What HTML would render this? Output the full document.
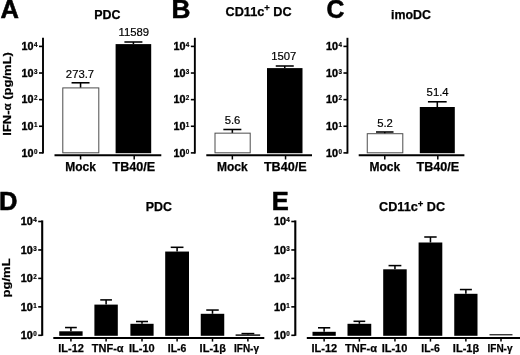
<!DOCTYPE html>
<html><head><meta charset="utf-8"><title>Figure</title>
<style>
html,body{margin:0;padding:0;background:#fff;}
svg{display:block;}
svg text{font-family:'Liberation Sans', sans-serif;fill:#000;}
</style></head>
<body>
<svg width="520" height="355" viewBox="0 0 520 355">
<defs><filter id="soft" x="0" y="0" width="520" height="355" filterUnits="userSpaceOnUse"><feGaussianBlur stdDeviation="0.35"/></filter></defs>
<rect x="0" y="0" width="520" height="355" fill="#fff"/>
<g filter="url(#soft)">
<line x1="43.0" y1="37.8" x2="43.0" y2="153.6" stroke="#000" stroke-width="1.9"/>
<line x1="39.0" y1="46.4" x2="43.0" y2="46.4" stroke="#000" stroke-width="1.6"/>
<text x="33.6" y="50.1" font-size="10.8" font-weight="bold" text-anchor="end" stroke="#000" stroke-width="0.4">10</text>
<text x="34.0" y="47.1" font-size="6.3" font-weight="bold" text-anchor="start" stroke="#000" stroke-width="0.2">4</text>
<line x1="39.0" y1="73.02" x2="43.0" y2="73.02" stroke="#000" stroke-width="1.6"/>
<text x="33.6" y="76.72" font-size="10.8" font-weight="bold" text-anchor="end" stroke="#000" stroke-width="0.4">10</text>
<text x="34.0" y="73.72" font-size="6.3" font-weight="bold" text-anchor="start" stroke="#000" stroke-width="0.2">3</text>
<line x1="39.0" y1="99.64" x2="43.0" y2="99.64" stroke="#000" stroke-width="1.6"/>
<text x="33.6" y="103.34" font-size="10.8" font-weight="bold" text-anchor="end" stroke="#000" stroke-width="0.4">10</text>
<text x="34.0" y="100.34" font-size="6.3" font-weight="bold" text-anchor="start" stroke="#000" stroke-width="0.2">2</text>
<line x1="39.0" y1="126.26" x2="43.0" y2="126.26" stroke="#000" stroke-width="1.6"/>
<text x="33.6" y="129.96" font-size="10.8" font-weight="bold" text-anchor="end" stroke="#000" stroke-width="0.4">10</text>
<text x="34.0" y="126.96000000000001" font-size="6.3" font-weight="bold" text-anchor="start" stroke="#000" stroke-width="0.2">1</text>
<line x1="39.0" y1="152.88" x2="43.0" y2="152.88" stroke="#000" stroke-width="1.6"/>
<text x="33.6" y="156.57999999999998" font-size="10.8" font-weight="bold" text-anchor="end" stroke="#000" stroke-width="0.4">10</text>
<text x="34.0" y="153.57999999999998" font-size="6.3" font-weight="bold" text-anchor="start" stroke="#000" stroke-width="0.2">0</text>
<line x1="54.5" y1="155.15" x2="161.3" y2="155.15" stroke="#000" stroke-width="2.0"/>
<line x1="71.55" y1="82.8" x2="89.55" y2="82.8" stroke="#000" stroke-width="1.55"/>
<line x1="80.55" y1="82.8" x2="80.55" y2="87.9" stroke="#000" stroke-width="1.55"/>
<line x1="124.39999999999998" y1="42.0" x2="142.39999999999998" y2="42.0" stroke="#000" stroke-width="1.55"/>
<line x1="133.39999999999998" y1="42.0" x2="133.39999999999998" y2="44.1" stroke="#000" stroke-width="1.55"/>
<rect x="62.8" y="87.9" width="36.0" height="64.9" fill="#fff" stroke="#4c4c4c" stroke-width="1.0"/>
<rect x="115.6" y="44.1" width="35.6" height="109.1" fill="#000"/>
<line x1="80.55" y1="155.5" x2="80.55" y2="159.5" stroke="#000" stroke-width="1.5"/>
<line x1="134.2" y1="155.5" x2="134.2" y2="159.5" stroke="#000" stroke-width="1.5"/>
<text x="80.55" y="170.8" font-size="12" font-weight="bold" text-anchor="middle" stroke="#000" stroke-width="0.25">Mock</text>
<text x="133.89999999999998" y="170.8" font-size="12" font-weight="bold" text-anchor="middle" textLength="42.7" lengthAdjust="spacingAndGlyphs" stroke="#000" stroke-width="0.25">TB40/E</text>
<text x="80" y="77.8" font-size="11.3" font-weight="normal" text-anchor="middle" stroke="#000" stroke-width="0.2">273.7</text>
<text x="133.75" y="36.3" font-size="11.3" font-weight="normal" text-anchor="middle" stroke="#000" stroke-width="0.2">11589</text>
<text x="107.3" y="19" font-size="12" font-weight="bold" text-anchor="middle" textLength="26.2" lengthAdjust="spacingAndGlyphs" stroke="#000" stroke-width="0.25">PDC</text>
<text transform="translate(0.4,18.0) scale(1.0,1)" font-size="25.5" font-weight="bold" stroke="#000" stroke-width="0.55">A</text>
<line x1="194.85" y1="37.8" x2="194.85" y2="153.6" stroke="#000" stroke-width="1.9"/>
<line x1="190.85" y1="46.4" x2="194.85" y2="46.4" stroke="#000" stroke-width="1.6"/>
<text x="185.45" y="50.1" font-size="10.8" font-weight="bold" text-anchor="end" stroke="#000" stroke-width="0.4">10</text>
<text x="185.85" y="47.1" font-size="6.3" font-weight="bold" text-anchor="start" stroke="#000" stroke-width="0.2">4</text>
<line x1="190.85" y1="73.02" x2="194.85" y2="73.02" stroke="#000" stroke-width="1.6"/>
<text x="185.45" y="76.72" font-size="10.8" font-weight="bold" text-anchor="end" stroke="#000" stroke-width="0.4">10</text>
<text x="185.85" y="73.72" font-size="6.3" font-weight="bold" text-anchor="start" stroke="#000" stroke-width="0.2">3</text>
<line x1="190.85" y1="99.64" x2="194.85" y2="99.64" stroke="#000" stroke-width="1.6"/>
<text x="185.45" y="103.34" font-size="10.8" font-weight="bold" text-anchor="end" stroke="#000" stroke-width="0.4">10</text>
<text x="185.85" y="100.34" font-size="6.3" font-weight="bold" text-anchor="start" stroke="#000" stroke-width="0.2">2</text>
<line x1="190.85" y1="126.26" x2="194.85" y2="126.26" stroke="#000" stroke-width="1.6"/>
<text x="185.45" y="129.96" font-size="10.8" font-weight="bold" text-anchor="end" stroke="#000" stroke-width="0.4">10</text>
<text x="185.85" y="126.96000000000001" font-size="6.3" font-weight="bold" text-anchor="start" stroke="#000" stroke-width="0.2">1</text>
<line x1="190.85" y1="152.88" x2="194.85" y2="152.88" stroke="#000" stroke-width="1.6"/>
<text x="185.45" y="156.57999999999998" font-size="10.8" font-weight="bold" text-anchor="end" stroke="#000" stroke-width="0.4">10</text>
<text x="185.85" y="153.57999999999998" font-size="6.3" font-weight="bold" text-anchor="start" stroke="#000" stroke-width="0.2">0</text>
<line x1="206.3" y1="155.15" x2="312.0" y2="155.15" stroke="#000" stroke-width="2.0"/>
<line x1="223.35" y1="129.5" x2="241.35" y2="129.5" stroke="#000" stroke-width="1.55"/>
<line x1="232.35" y1="129.5" x2="232.35" y2="133.15" stroke="#000" stroke-width="1.55"/>
<line x1="275.75" y1="66.0" x2="293.75" y2="66.0" stroke="#000" stroke-width="1.55"/>
<line x1="284.75" y1="66.0" x2="284.75" y2="68.1" stroke="#000" stroke-width="1.55"/>
<rect x="215.0" y="133.15" width="35.2" height="19.65" fill="#fff" stroke="#4c4c4c" stroke-width="1.0"/>
<rect x="267.0" y="68.1" width="35.5" height="85.1" fill="#000"/>
<line x1="232.35" y1="155.5" x2="232.35" y2="159.5" stroke="#000" stroke-width="1.5"/>
<line x1="285.55" y1="155.5" x2="285.55" y2="159.5" stroke="#000" stroke-width="1.5"/>
<text x="232.35" y="170.8" font-size="12" font-weight="bold" text-anchor="middle" stroke="#000" stroke-width="0.25">Mock</text>
<text x="285.25" y="170.8" font-size="12" font-weight="bold" text-anchor="middle" textLength="42.7" lengthAdjust="spacingAndGlyphs" stroke="#000" stroke-width="0.25">TB40/E</text>
<text x="232.5" y="123.6" font-size="11.3" font-weight="normal" text-anchor="middle" stroke="#000" stroke-width="0.2">5.6</text>
<text x="283.8" y="60.3" font-size="11.3" font-weight="normal" text-anchor="middle" stroke="#000" stroke-width="0.2">1507</text>
<text x="258.6" y="15.6" font-size="12" font-weight="bold" text-anchor="middle" textLength="66.2" lengthAdjust="spacingAndGlyphs" stroke="#000" stroke-width="0.25">CD11c<tspan font-size="9" dy="-4.2">+</tspan><tspan dy="4.2"> DC</tspan></text>
<text transform="translate(171.4,18.0) scale(1.03,1)" font-size="25.5" font-weight="bold" stroke="#000" stroke-width="0.55">B</text>
<line x1="347.45" y1="37.8" x2="347.45" y2="153.6" stroke="#000" stroke-width="1.9"/>
<line x1="343.45" y1="46.4" x2="347.45" y2="46.4" stroke="#000" stroke-width="1.6"/>
<text x="338.05" y="50.1" font-size="10.8" font-weight="bold" text-anchor="end" stroke="#000" stroke-width="0.4">10</text>
<text x="338.45" y="47.1" font-size="6.3" font-weight="bold" text-anchor="start" stroke="#000" stroke-width="0.2">4</text>
<line x1="343.45" y1="73.02" x2="347.45" y2="73.02" stroke="#000" stroke-width="1.6"/>
<text x="338.05" y="76.72" font-size="10.8" font-weight="bold" text-anchor="end" stroke="#000" stroke-width="0.4">10</text>
<text x="338.45" y="73.72" font-size="6.3" font-weight="bold" text-anchor="start" stroke="#000" stroke-width="0.2">3</text>
<line x1="343.45" y1="99.64" x2="347.45" y2="99.64" stroke="#000" stroke-width="1.6"/>
<text x="338.05" y="103.34" font-size="10.8" font-weight="bold" text-anchor="end" stroke="#000" stroke-width="0.4">10</text>
<text x="338.45" y="100.34" font-size="6.3" font-weight="bold" text-anchor="start" stroke="#000" stroke-width="0.2">2</text>
<line x1="343.45" y1="126.26" x2="347.45" y2="126.26" stroke="#000" stroke-width="1.6"/>
<text x="338.05" y="129.96" font-size="10.8" font-weight="bold" text-anchor="end" stroke="#000" stroke-width="0.4">10</text>
<text x="338.45" y="126.96000000000001" font-size="6.3" font-weight="bold" text-anchor="start" stroke="#000" stroke-width="0.2">1</text>
<line x1="343.45" y1="152.88" x2="347.45" y2="152.88" stroke="#000" stroke-width="1.6"/>
<text x="338.05" y="156.57999999999998" font-size="10.8" font-weight="bold" text-anchor="end" stroke="#000" stroke-width="0.4">10</text>
<text x="338.45" y="153.57999999999998" font-size="6.3" font-weight="bold" text-anchor="start" stroke="#000" stroke-width="0.2">0</text>
<line x1="358.7" y1="155.15" x2="464.4" y2="155.15" stroke="#000" stroke-width="2.0"/>
<line x1="376.025" y1="132.0" x2="393.525" y2="132.0" stroke="#000" stroke-width="1.55"/>
<line x1="384.775" y1="132.0" x2="384.775" y2="133.7" stroke="#000" stroke-width="1.55"/>
<line x1="427.925" y1="101.8" x2="446.675" y2="101.8" stroke="#000" stroke-width="1.55"/>
<line x1="437.3" y1="101.8" x2="437.3" y2="107.0" stroke="#000" stroke-width="1.55"/>
<rect x="367.25" y="133.7" width="35.55" height="19.1" fill="#fff" stroke="#4c4c4c" stroke-width="1.0"/>
<rect x="419.8" y="107.0" width="35.0" height="46.2" fill="#000"/>
<line x1="384.775" y1="155.5" x2="384.775" y2="159.5" stroke="#000" stroke-width="1.5"/>
<line x1="437.8" y1="155.5" x2="437.8" y2="159.5" stroke="#000" stroke-width="1.5"/>
<text x="384.775" y="170.8" font-size="12" font-weight="bold" text-anchor="middle" stroke="#000" stroke-width="0.25">Mock</text>
<text x="437.8" y="170.8" font-size="12" font-weight="bold" text-anchor="middle" textLength="42.7" lengthAdjust="spacingAndGlyphs" stroke="#000" stroke-width="0.25">TB40/E</text>
<text x="385" y="126.8" font-size="11.3" font-weight="normal" text-anchor="middle" stroke="#000" stroke-width="0.2">5.2</text>
<text x="437.6" y="96.0" font-size="11.3" font-weight="normal" text-anchor="middle" stroke="#000" stroke-width="0.2">51.4</text>
<text x="411" y="19" font-size="12" font-weight="bold" text-anchor="middle" textLength="40" lengthAdjust="spacingAndGlyphs" stroke="#000" stroke-width="0.25">imoDC</text>
<text transform="translate(326.6,18.0) scale(0.97,1)" font-size="25.5" font-weight="bold" stroke="#000" stroke-width="0.55">C</text>
<text transform="translate(10.8,93.9) rotate(-90) scale(1,0.9)" font-size="13" font-weight="bold" text-anchor="middle" stroke="#000" stroke-width="0.25">IFN-<tspan font-size="11.5">α</tspan> (pg/mL)</text>
<line x1="42.2" y1="220.4" x2="42.2" y2="335.8" stroke="#000" stroke-width="2.1"/>
<line x1="38.2" y1="221.5" x2="42.2" y2="221.5" stroke="#000" stroke-width="1.6"/>
<text x="32.800000000000004" y="225.2" font-size="10.8" font-weight="bold" text-anchor="end" stroke="#000" stroke-width="0.4">10</text>
<text x="33.2" y="222.2" font-size="6.3" font-weight="bold" text-anchor="start" stroke="#000" stroke-width="0.2">4</text>
<line x1="38.2" y1="249.95" x2="42.2" y2="249.95" stroke="#000" stroke-width="1.6"/>
<text x="32.800000000000004" y="253.64999999999998" font-size="10.8" font-weight="bold" text-anchor="end" stroke="#000" stroke-width="0.4">10</text>
<text x="33.2" y="250.64999999999998" font-size="6.3" font-weight="bold" text-anchor="start" stroke="#000" stroke-width="0.2">3</text>
<line x1="38.2" y1="278.4" x2="42.2" y2="278.4" stroke="#000" stroke-width="1.6"/>
<text x="32.800000000000004" y="282.09999999999997" font-size="10.8" font-weight="bold" text-anchor="end" stroke="#000" stroke-width="0.4">10</text>
<text x="33.2" y="279.09999999999997" font-size="6.3" font-weight="bold" text-anchor="start" stroke="#000" stroke-width="0.2">2</text>
<line x1="38.2" y1="306.85" x2="42.2" y2="306.85" stroke="#000" stroke-width="1.6"/>
<text x="32.800000000000004" y="310.55" font-size="10.8" font-weight="bold" text-anchor="end" stroke="#000" stroke-width="0.4">10</text>
<text x="33.2" y="307.55" font-size="6.3" font-weight="bold" text-anchor="start" stroke="#000" stroke-width="0.2">1</text>
<line x1="38.2" y1="335.3" x2="42.2" y2="335.3" stroke="#000" stroke-width="1.6"/>
<text x="32.800000000000004" y="339.0" font-size="10.8" font-weight="bold" text-anchor="end" stroke="#000" stroke-width="0.4">10</text>
<text x="33.2" y="336.0" font-size="6.3" font-weight="bold" text-anchor="start" stroke="#000" stroke-width="0.2">0</text>
<line x1="53.3" y1="337.95" x2="264.3" y2="337.95" stroke="#000" stroke-width="2.0"/>
<line x1="65.05" y1="327.55" x2="76.8" y2="327.55" stroke="#000" stroke-width="1.55"/>
<line x1="70.925" y1="327.55" x2="70.925" y2="331.3" stroke="#000" stroke-width="1.55"/>
<rect x="59.25" y="331.3" width="23.35" height="4.5" fill="#000"/>
<line x1="70.925" y1="338.5" x2="70.925" y2="341.6" stroke="#000" stroke-width="1.5"/>
<line x1="100.25" y1="299.9" x2="111.94999999999999" y2="299.9" stroke="#000" stroke-width="1.55"/>
<line x1="106.1" y1="299.9" x2="106.1" y2="304.6" stroke="#000" stroke-width="1.55"/>
<rect x="94.4" y="304.6" width="23.4" height="31.2" fill="#000"/>
<line x1="106.1" y1="338.5" x2="106.1" y2="341.6" stroke="#000" stroke-width="1.5"/>
<line x1="136.0" y1="321.5" x2="148.0" y2="321.5" stroke="#000" stroke-width="1.55"/>
<line x1="142.0" y1="321.5" x2="142.0" y2="323.8" stroke="#000" stroke-width="1.55"/>
<rect x="130.4" y="323.8" width="23.2" height="12.0" fill="#000"/>
<line x1="142.0" y1="338.5" x2="142.0" y2="341.6" stroke="#000" stroke-width="1.5"/>
<line x1="170.725" y1="247.3" x2="183.475" y2="247.3" stroke="#000" stroke-width="1.55"/>
<line x1="177.1" y1="247.3" x2="177.1" y2="251.55" stroke="#000" stroke-width="1.55"/>
<rect x="165.2" y="251.55" width="23.8" height="84.25" fill="#000"/>
<line x1="177.1" y1="338.5" x2="177.1" y2="341.6" stroke="#000" stroke-width="1.5"/>
<line x1="206.25" y1="310.05" x2="218.75" y2="310.05" stroke="#000" stroke-width="1.55"/>
<line x1="212.5" y1="310.05" x2="212.5" y2="313.8" stroke="#000" stroke-width="1.55"/>
<rect x="200.75" y="313.8" width="23.5" height="22.0" fill="#000"/>
<line x1="212.5" y1="338.5" x2="212.5" y2="341.6" stroke="#000" stroke-width="1.5"/>
<line x1="241.49999999999997" y1="333.6" x2="254.29999999999998" y2="333.6" stroke="#000" stroke-width="1.55"/>
<line x1="247.89999999999998" y1="333.6" x2="247.89999999999998" y2="334.4" stroke="#000" stroke-width="1.55"/>
<rect x="235.6" y="334.4" width="24.6" height="1.4" fill="#000"/>
<line x1="247.89999999999998" y1="338.5" x2="247.89999999999998" y2="341.6" stroke="#000" stroke-width="1.5"/>
<text x="71.1" y="351.7" font-size="11" font-weight="bold" text-anchor="middle" stroke="#000" stroke-width="0.25">IL-12</text>
<text x="107.7" y="351.7" font-size="11" font-weight="bold" text-anchor="middle" stroke="#000" stroke-width="0.25">TNF-α</text>
<text x="141.9" y="351.7" font-size="11" font-weight="bold" text-anchor="middle" stroke="#000" stroke-width="0.25">IL-10</text>
<text x="177.1" y="351.7" font-size="11" font-weight="bold" text-anchor="middle" textLength="18.6" lengthAdjust="spacingAndGlyphs" stroke="#000" stroke-width="0.25">IL-6</text>
<text x="212.75" y="351.7" font-size="11" font-weight="bold" text-anchor="middle" stroke="#000" stroke-width="0.25">IL-1β</text>
<text x="246.5" y="351.7" font-size="11" font-weight="bold" text-anchor="middle" textLength="25" lengthAdjust="spacingAndGlyphs" stroke="#000" stroke-width="0.25">IFN-γ</text>
<text x="158.9" y="210.5" font-size="12" font-weight="bold" text-anchor="middle" textLength="26.2" lengthAdjust="spacingAndGlyphs" stroke="#000" stroke-width="0.25">PDC</text>
<text transform="translate(-0.9,209.8) scale(1.0,1)" font-size="25.5" font-weight="bold" stroke="#000" stroke-width="0.55">D</text>
<line x1="295.3" y1="220.4" x2="295.3" y2="335.8" stroke="#000" stroke-width="2.1"/>
<line x1="291.3" y1="221.5" x2="295.3" y2="221.5" stroke="#000" stroke-width="1.6"/>
<text x="285.90000000000003" y="225.2" font-size="10.8" font-weight="bold" text-anchor="end" stroke="#000" stroke-width="0.4">10</text>
<text x="286.3" y="222.2" font-size="6.3" font-weight="bold" text-anchor="start" stroke="#000" stroke-width="0.2">4</text>
<line x1="291.3" y1="249.95" x2="295.3" y2="249.95" stroke="#000" stroke-width="1.6"/>
<text x="285.90000000000003" y="253.64999999999998" font-size="10.8" font-weight="bold" text-anchor="end" stroke="#000" stroke-width="0.4">10</text>
<text x="286.3" y="250.64999999999998" font-size="6.3" font-weight="bold" text-anchor="start" stroke="#000" stroke-width="0.2">3</text>
<line x1="291.3" y1="278.4" x2="295.3" y2="278.4" stroke="#000" stroke-width="1.6"/>
<text x="285.90000000000003" y="282.09999999999997" font-size="10.8" font-weight="bold" text-anchor="end" stroke="#000" stroke-width="0.4">10</text>
<text x="286.3" y="279.09999999999997" font-size="6.3" font-weight="bold" text-anchor="start" stroke="#000" stroke-width="0.2">2</text>
<line x1="291.3" y1="306.85" x2="295.3" y2="306.85" stroke="#000" stroke-width="1.6"/>
<text x="285.90000000000003" y="310.55" font-size="10.8" font-weight="bold" text-anchor="end" stroke="#000" stroke-width="0.4">10</text>
<text x="286.3" y="307.55" font-size="6.3" font-weight="bold" text-anchor="start" stroke="#000" stroke-width="0.2">1</text>
<line x1="291.3" y1="335.3" x2="295.3" y2="335.3" stroke="#000" stroke-width="1.6"/>
<text x="285.90000000000003" y="339.0" font-size="10.8" font-weight="bold" text-anchor="end" stroke="#000" stroke-width="0.4">10</text>
<text x="286.3" y="336.0" font-size="6.3" font-weight="bold" text-anchor="start" stroke="#000" stroke-width="0.2">0</text>
<line x1="306.8" y1="337.95" x2="520" y2="337.95" stroke="#000" stroke-width="2.0"/>
<line x1="318.0" y1="327.8" x2="330.25" y2="327.8" stroke="#000" stroke-width="1.55"/>
<line x1="324.125" y1="327.8" x2="324.125" y2="331.8" stroke="#000" stroke-width="1.55"/>
<rect x="312.5" y="331.8" width="23.25" height="4.0" fill="#000"/>
<line x1="324.125" y1="338.5" x2="324.125" y2="341.6" stroke="#000" stroke-width="1.5"/>
<line x1="353.5" y1="321.3" x2="365.25" y2="321.3" stroke="#000" stroke-width="1.55"/>
<line x1="359.375" y1="321.3" x2="359.375" y2="323.8" stroke="#000" stroke-width="1.55"/>
<rect x="347.5" y="323.8" width="23.75" height="12.0" fill="#000"/>
<line x1="359.375" y1="338.5" x2="359.375" y2="341.6" stroke="#000" stroke-width="1.5"/>
<line x1="388.54999999999995" y1="265.6" x2="401.35" y2="265.6" stroke="#000" stroke-width="1.55"/>
<line x1="394.95" y1="265.6" x2="394.95" y2="269.3" stroke="#000" stroke-width="1.55"/>
<rect x="383.2" y="269.3" width="23.5" height="66.5" fill="#000"/>
<line x1="394.95" y1="338.5" x2="394.95" y2="341.6" stroke="#000" stroke-width="1.5"/>
<line x1="424.25" y1="237.0" x2="436.6500000000001" y2="237.0" stroke="#000" stroke-width="1.55"/>
<line x1="430.45000000000005" y1="237.0" x2="430.45000000000005" y2="242.5" stroke="#000" stroke-width="1.55"/>
<rect x="418.6" y="242.5" width="23.7" height="93.3" fill="#000"/>
<line x1="430.45000000000005" y1="338.5" x2="430.45000000000005" y2="341.6" stroke="#000" stroke-width="1.5"/>
<line x1="459.875" y1="289.55" x2="471.875" y2="289.55" stroke="#000" stroke-width="1.55"/>
<line x1="465.875" y1="289.55" x2="465.875" y2="293.8" stroke="#000" stroke-width="1.55"/>
<rect x="454.25" y="293.8" width="23.25" height="42.0" fill="#000"/>
<line x1="465.875" y1="338.5" x2="465.875" y2="341.6" stroke="#000" stroke-width="1.5"/>
<line x1="489.5" y1="334.75" x2="512.5" y2="334.75" stroke="#222" stroke-width="1.25"/>
<line x1="501.0" y1="338.5" x2="501.0" y2="341.6" stroke="#000" stroke-width="1.5"/>
<text x="324.4" y="351.7" font-size="11" font-weight="bold" text-anchor="middle" stroke="#000" stroke-width="0.25">IL-12</text>
<text x="361" y="351.7" font-size="11" font-weight="bold" text-anchor="middle" stroke="#000" stroke-width="0.25">TNF-α</text>
<text x="394.5" y="351.7" font-size="11" font-weight="bold" text-anchor="middle" stroke="#000" stroke-width="0.25">IL-10</text>
<text x="430.6" y="351.7" font-size="11" font-weight="bold" text-anchor="middle" textLength="18.6" lengthAdjust="spacingAndGlyphs" stroke="#000" stroke-width="0.25">IL-6</text>
<text x="466" y="351.7" font-size="11" font-weight="bold" text-anchor="middle" stroke="#000" stroke-width="0.25">IL-1β</text>
<text x="500" y="351.7" font-size="11" font-weight="bold" text-anchor="middle" textLength="25" lengthAdjust="spacingAndGlyphs" stroke="#000" stroke-width="0.25">IFN-γ</text>
<text x="412.1" y="210.75" font-size="12" font-weight="bold" text-anchor="middle" textLength="66.2" lengthAdjust="spacingAndGlyphs" stroke="#000" stroke-width="0.25">CD11c<tspan font-size="9" dy="-4.2">+</tspan><tspan dy="4.2"> DC</tspan></text>
<text transform="translate(271.8,209.8) scale(1.0,1)" font-size="25.5" font-weight="bold" stroke="#000" stroke-width="0.55">E</text>
<text transform="translate(9.8,277.9) rotate(-90) scale(1,0.9)" font-size="13" font-weight="bold" text-anchor="middle" stroke="#000" stroke-width="0.25">pg/mL</text>
</g>
</svg>
</body></html>
